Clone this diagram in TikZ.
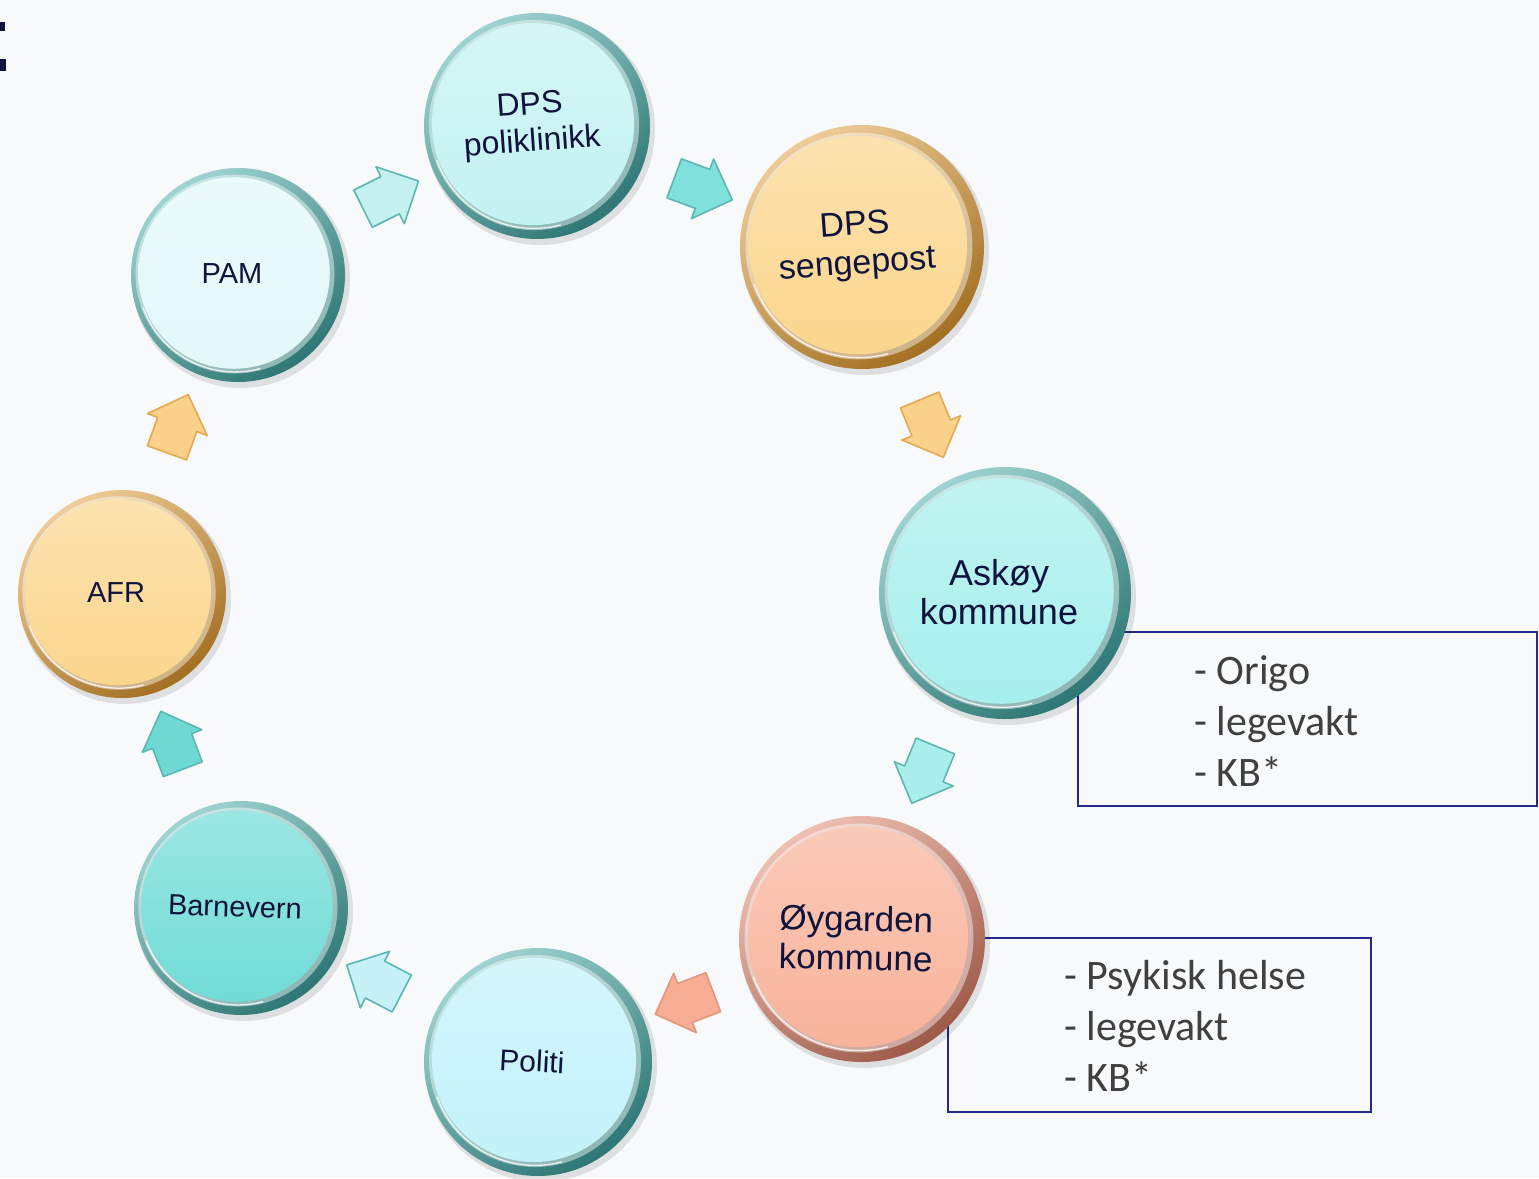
\documentclass[tikz,border=0pt]{standalone}
\usepackage{fontspec}
\setmainfont{Liberation Sans}
\newfontfamily\listfont{Carlito}
\usepackage{tikz}
\usetikzlibrary{calc, shapes.arrows}
\definecolor{pageBg}{HTML}{F8F9FA}
\definecolor{inkNavy}{HTML}{10143C}
\definecolor{boxBlue}{HTML}{24298A}
\definecolor{listGrey}{HTML}{404040}
\definecolor{tealRim}{HTML}{5DB6B2}
\definecolor{tealDark}{HTML}{2E7774}
\definecolor{goldRim}{HTML}{E3AA52}
\definecolor{goldDark}{HTML}{A36F22}
\definecolor{salmonRim}{HTML}{E2957F}
\definecolor{salmonDark}{HTML}{9E5A48}
\definecolor{faceIce}{HTML}{E2F8F9}
\definecolor{faceAqua}{HTML}{C3F2F2}
\definecolor{faceGold}{HTML}{FBD68D}
\definecolor{faceCyan}{HTML}{A6EFEC}
\definecolor{faceSalmon}{HTML}{F8B39A}
\definecolor{faceSky}{HTML}{C2F2F9}
\definecolor{faceTeal}{HTML}{70DCD6}
\definecolor{arrowIce}{HTML}{C4F0F0}
\definecolor{arrowAqua}{HTML}{7FE0DC}
\definecolor{arrowGold}{HTML}{FBD08A}
\definecolor{arrowCyan}{HTML}{A9EEEB}
\definecolor{arrowSalmon}{HTML}{F6AD93}
\definecolor{arrowSky}{HTML}{C6F1F7}
\definecolor{arrowTeal}{HTML}{6ED8D2}
\tikzset{
  disctext/.style={circle, inner sep=0pt, align=center, text=inkNavy},
  flowarrow/.style={single arrow, single arrow head extend=11pt, minimum width=62pt,
    minimum height=62pt, inner xsep=0pt, inner ysep=20pt, line width=1.6pt, line join=round},
  listframe/.style={draw=boxBlue, line width=1.6pt},
  listtext/.style={align=left, text=listGrey, inner sep=0pt,
    font=\listfont\fontsize{42}{51}\selectfont},
}
% one round station: name, centre, radius, face, rim, dark rim, font, rotation, text
\newcommand{\station}[9]{%
  \fill[black, opacity=0.10] ($#2+(3,-4)$) circle ({#3+2});
  \shade[top color=#5!60!white, bottom color=#6, shading angle=35] #2 circle (#3);
  \fill[white, opacity=0.45] ($#2+(-3,1)$) circle ({0.93*#3});
  \shade[top color=#4!70!white, bottom color=#4] ($#2+(-4,2)$) circle ({0.895*#3});
  \draw[white, line width=1.3pt, opacity=0.8] ($#2+(-3,1)+(200:{0.915*#3})$)
    arc[start angle=200, end angle=285, radius={0.915*#3}];
  \node[disctext, font=#7, rotate=#8] (#1) at ($#2+(-6,1)$) {#9};
}

\begin{document}
\begin{tikzpicture}[x=1pt, y=1pt]
  \useasboundingbox (0,0) rectangle (1539,-1178);
  \fill[pageBg] (0,0) rectangle (1539,-1178);
  \fill[inkNavy] (0,-22) rectangle (5,-31);
  \fill[inkNavy] (0,-59) rectangle (6,-71);

  % side lists
  \draw[listframe] (1078,-632) rectangle (1537,-806);
  \node[listtext, anchor=north west] (askoylist) at (1194,-655) {- Origo\\- legevakt\\- KB*};
  \draw[listframe] (948,-938) rectangle (1371,-1112);
  \node[listtext, anchor=north west] (oygardenlist) at (1064,-960) {- Psykisk helse\\- legevakt\\- KB*};

  % stations
  \station{dpspoli}{(537,-126)}{113}{faceAqua}{tealRim}{tealDark}{\fontsize{32}{37}\selectfont}{4}{DPS\\poliklinikk}
  \station{sengepost}{(862,-247)}{122}{faceGold}{goldRim}{goldDark}{\fontsize{34}{39}\selectfont}{4}{DPS\\sengepost}
  \station{askoy}{(1005,-593)}{126}{faceCyan}{tealRim}{tealDark}{\fontsize{36}{39}\selectfont}{0}{Askøy\\kommune}
  \station{oygarden}{(862,-939)}{123}{faceSalmon}{salmonRim}{salmonDark}{\fontsize{35}{39}\selectfont}{-1}{Øygarden\\kommune}
  \station{politi}{(538,-1062)}{114}{faceSky}{tealRim}{tealDark}{\fontsize{30}{32}\selectfont}{-3}{Politi}
  \station{barnevern}{(241,-908)}{107}{faceTeal}{tealRim}{tealDark}{\fontsize{29}{31}\selectfont}{-2}{Barnevern}
  \station{afr}{(122,-594)}{104}{faceGold}{goldRim}{goldDark}{\fontsize{29}{31}\selectfont}{0}{AFR}
  \station{pam}{(238,-275)}{107}{faceIce}{tealRim}{tealDark}{\fontsize{29}{31}\selectfont}{0}{PAM}

  % block arrows between stations
  \foreach \from/\to/\fc/\dc in {pam/dpspoli/arrowIce/tealRim, dpspoli/sengepost/arrowAqua/tealRim,
      sengepost/askoy/arrowGold/goldRim, askoy/oygarden/arrowCyan/tealRim,
      oygarden/politi/arrowSalmon/salmonRim, politi/barnevern/arrowSky/tealRim,
      barnevern/afr/arrowTeal/tealRim, afr/pam/arrowGold/goldRim}
    \path let \p1 = ($(\to)-(\from)$), \n1 = {atan2(\y1,\x1)} in
      node[flowarrow, fill=\fc, draw=\dc, rotate=\n1] (arrow-\from) at ($(\from)!0.5!(\to)$) {};
\end{tikzpicture}
\end{document}
